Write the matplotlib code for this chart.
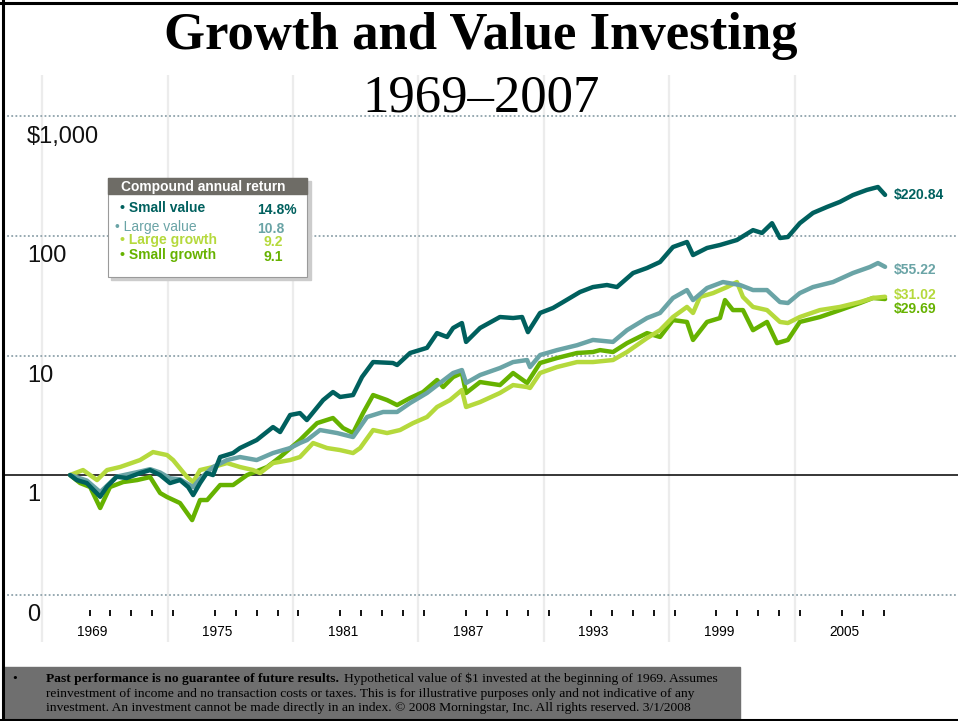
import numpy as np
import matplotlib.pyplot as plt
from matplotlib.lines import Line2D
from matplotlib.patches import Rectangle

plt.rcParams['font.family'] = ['Liberation Sans', 'DejaVu Sans']

# ── Valor de $1 invertido a inicios de 1969 ──
sv_t = [1969.00, 1969.32, 1969.80, 1970.44, 1970.76, 1971.23, 1971.71, 1972.35, 1972.83,
        1973.31, 1973.78, 1974.26, 1974.65, 1974.89, 1975.22, 1975.54, 1975.84, 1976.18,
        1976.80, 1977.13, 1977.93, 1978.71, 1979.05, 1979.53, 1980.00, 1980.33, 1981.11,
        1981.58, 1981.92, 1982.54, 1982.97, 1983.50, 1984.45, 1984.65, 1985.27, 1986.08,
        1986.56, 1987.04, 1987.33, 1987.75, 1987.95, 1988.62, 1989.57, 1990.20, 1990.63,
        1990.91, 1991.49, 1992.11, 1992.59, 1993.40, 1994.02, 1994.69, 1995.17, 1995.94,
        1996.61, 1997.23, 1997.85, 1998.52, 1998.81, 1999.48, 2000.10, 2000.91, 2001.68,
        2002.11, 2002.59, 2002.97, 2003.35, 2003.92, 2004.55, 2005.22, 2005.84, 2006.46,
        2007.13, 2007.66, 2008.00]
sv_v = [1.0, 0.908, 0.857, 0.658, 0.798, 0.968, 0.944, 1.039, 1.10,
        1.0, 0.857, 0.908, 0.794, 0.68, 0.857, 1.039, 1.0, 1.415,
        1.528, 1.682, 1.963, 2.52, 2.29, 3.18, 3.30, 2.886, 4.24,
        4.95, 4.50, 4.67, 6.61, 8.82, 8.66, 8.33, 10.5, 11.6,
        15.4, 14.3, 17.0, 18.7, 13.0, 17.0, 21.0, 20.6, 21.0,
        15.7, 22.7, 25.0, 28.0, 34.0, 37.4, 38.9, 37.4, 49.0,
        54.0, 60.6, 80.9, 89.1, 69.3, 79.4, 84.1, 92.6, 112,
        106, 128, 96.2, 98.1, 128, 156, 175, 193, 220,
        243, 257, 220.84]

lv_t = [1969.00, 1969.80, 1970.44, 1971.23, 1972.35, 1972.83, 1973.31, 1973.78, 1974.26,
        1974.89, 1975.22, 1975.84, 1976.51, 1977.13, 1977.93, 1978.71, 1979.53, 1980.00,
        1980.34, 1980.96, 1981.78, 1982.54, 1983.21, 1983.98, 1984.65, 1985.27, 1986.08,
        1986.70, 1987.33, 1987.75, 1987.95, 1988.62, 1989.57, 1990.20, 1990.87, 1991.01,
        1991.49, 1992.30, 1993.26, 1994.02, 1994.98, 1995.65, 1996.61, 1997.23, 1997.85,
        1998.52, 1998.81, 1999.48, 2000.24, 2001.06, 2001.68, 2002.35, 2002.97, 2003.35,
        2003.92, 2004.55, 2005.51, 2006.46, 2007.27, 2007.66, 2008.00]
lv_v = [1.0, 0.90, 0.72, 0.97, 1.07, 1.12, 1.05, 0.94, 0.92,
        0.794, 0.93, 1.167, 1.335, 1.415, 1.335, 1.528, 1.682, 1.853,
        1.963, 2.38, 2.246, 2.08, 3.06, 3.37, 3.37, 4.0, 4.86,
        5.89, 7.14, 7.56, 5.89, 6.87, 7.86, 8.82, 9.17, 8.01,
        10.1, 11.1, 12.2, 13.5, 13.0, 16.3, 20.6, 22.7, 30.3,
        35.3, 29.1, 36.7, 41.2, 38.9, 35.3, 35.3, 28.0, 27.5,
        33.3, 37.4, 41.2, 49.0, 55.0, 59.4, 55.22]

lg_t = [1969.00, 1969.62, 1970.29, 1970.77, 1971.39, 1972.35, 1972.97, 1973.64, 1973.93,
        1974.60, 1974.89, 1975.22, 1975.84, 1976.51, 1977.13, 1977.76, 1978.09, 1978.71,
        1979.53, 1980.00, 1980.63, 1981.30, 1981.92, 1982.54, 1982.88, 1983.50, 1984.17,
        1984.79, 1985.41, 1986.08, 1986.56, 1987.18, 1987.75, 1987.95, 1988.62, 1989.57,
        1990.20, 1990.87, 1991.01, 1991.49, 1992.30, 1993.26, 1994.02, 1994.98, 1995.65,
        1996.61, 1997.23, 1997.85, 1998.52, 1998.81, 1999.14, 1999.77, 2000.44, 2000.91,
        2001.20, 2001.68, 2002.35, 2002.97, 2003.35, 2003.92, 2004.88, 2005.84, 2006.80,
        2007.42, 2008.00]
lg_v = [1.0, 1.101, 0.908, 1.101, 1.167, 1.335, 1.557, 1.47, 1.335,
        0.962, 0.874, 1.101, 1.167, 1.26, 1.167, 1.101, 1.039, 1.26,
        1.335, 1.415, 1.853, 1.682, 1.618, 1.528, 1.682, 2.38, 2.246,
        2.38, 2.72, 3.06, 3.71, 4.24, 5.14, 3.71, 4.08, 4.86,
        5.66, 5.45, 5.35, 7.14, 8.01, 8.82, 8.82, 9.17, 10.7,
        14.0, 16.3, 21.0, 25.5, 22.7, 30.9, 33.3, 37.4, 41.2,
        30.9, 25.5, 24.0, 19.1, 18.7, 21.0, 24.0, 25.5, 28.0,
        30.3, 31.02]

sg_t = [1969.00, 1969.48, 1969.96, 1970.44, 1970.91, 1971.54, 1972.21, 1972.83, 1973.31,
        1973.64, 1974.26, 1974.84, 1975.22, 1975.56, 1976.18, 1976.80, 1977.47, 1978.43,
        1979.05, 1980.00, 1980.48, 1980.82, 1981.58, 1982.06, 1982.54, 1983.02, 1983.50,
        1984.17, 1984.65, 1985.27, 1985.89, 1986.56, 1986.85, 1987.33, 1987.75, 1987.95,
        1988.62, 1989.57, 1990.20, 1990.87, 1991.49, 1992.30, 1993.26, 1994.02, 1994.36,
        1994.98, 1995.65, 1996.61, 1997.23, 1997.85, 1998.52, 1998.81, 1999.48, 2000.10,
        2000.34, 2000.72, 2001.20, 2001.68, 2002.35, 2002.83, 2003.35, 2003.92, 2004.88,
        2005.84, 2006.80, 2007.42, 2008.00]
sg_v = [1.0, 0.857, 0.794, 0.53, 0.794, 0.874, 0.908, 0.962, 0.707,
        0.655, 0.583, 0.42, 0.618, 0.618, 0.825, 0.825, 1.0, 1.167,
        1.415, 1.963, 2.38, 2.72, 3.0, 2.474, 2.246, 3.30, 4.67,
        4.24, 3.85, 4.41, 4.95, 6.24, 5.45, 6.61, 7.14, 4.86,
        6.0, 5.66, 7.14, 5.89, 8.66, 9.53, 10.5, 10.7, 11.1,
        10.7, 12.7, 15.4, 14.3, 19.8, 19.1, 13.5, 19.1, 20.6,
        29.1, 24.0, 24.0, 16.3, 19.1, 12.7, 13.5, 19.1, 21.0,
        24.0, 27.5, 30.3, 29.69]

names = ["Small value", "Large value", "Large growth", "Small growth"]
returns = ["14.8%", "10.8", "9.2", "9.1"]
end_labels = ["$220.84", "$55.22", "$31.02", "$29.69"]
colors = ["#00605e", "#6aa4a6", "#b5d93c", "#66b200"]

level_values = [1000, 100, 10, 1, 0.1]
level_labels = ["$1,000", "100", "10", "1", "0"]
label_years = list(range(1969, 2006, 6))
grid_years = [1967.67 + 6 * k for k in range(7)]

# ── Figura ──
W, H = 958, 721
fig = plt.figure(figsize=(W / 100, H / 100), dpi=100)


def fx(px):
    return px / W


def fy(py):
    return 1 - py / H


ax = fig.add_axes([fx(3), fy(642), 1 - fx(3), fy(75) - fy(642)])
ax.set_yscale("log")
ax.set_xlim(1965.79, 2011.49)
ax.set_ylim(0.0401, 2224)
ax.axis("off")

for g in grid_years:
    ax.axvline(g, color="#ececec", lw=1.6, zorder=0)

for lv, lab in zip(level_values, level_labels):
    if lv == 1:
        ax.axhline(lv, color="black", lw=1.1, zorder=1)
    else:
        ax.axhline(lv, color="#8fa3ab", lw=1.3, ls=(0, (1, 1.3)), zorder=1)
    ax.annotate(lab, xy=(0.025, lv), xycoords=("axes fraction", "data"),
                xytext=(0, -14.5), textcoords="offset points",
                ha="left", va="center", fontsize=17, color="#111111")

# ticks de años
tick_years = [y for y in range(1969, 2008) if (y - 1969) % 6 != 5]
ax.plot([y + 0.93 for y in tick_years], [0.051] * len(tick_years), ls="none",
        marker="|", ms=5, mew=1.3, color="black", transform=ax.get_xaxis_transform())
for y in label_years:
    ax.text(y + 1.05, 0.018, str(y), transform=ax.get_xaxis_transform(),
            ha="center", va="center", fontsize=9.8)

# series (small value arriba)
data = [(sv_t, sv_v), (lv_t, lv_v), (lg_t, lg_v), (sg_t, sg_v)]
for i in [3, 2, 1, 0]:
    t, v = data[i]
    ax.plot(t, v, color=colors[i], lw=3.2, solid_joinstyle="round",
            solid_capstyle="round", zorder=3 + (3 - i))

offsets = [0, -2, 1, -7]
for i in range(4):
    ax.annotate(end_labels[i], xy=(sg_t[-1], data[i][1][-1]), xytext=(6.5, offsets[i]),
                textcoords="offset points", ha="left", va="center",
                fontsize=10, fontweight="bold", color=colors[i])

# ── Titulo ──
fig.text(0.502, fy(36), "Growth and Value Investing", ha="center", va="center",
         family="Liberation Serif", fontweight="bold", fontsize=38)
fig.text(0.502, fy(98), "1969\u20132007", ha="center", va="center",
         family="Liberation Serif", fontsize=38)

# ── Cuadro de rendimientos ──
fig.add_artist(Rectangle((fx(111), fy(280)), fx(200), fy(181) - fy(280),
                         transform=fig.transFigure, color="#cccccc", zorder=5))
fig.add_artist(Rectangle((fx(108), fy(277)), fx(199), fy(178) - fy(277),
                         transform=fig.transFigure, facecolor="white",
                         edgecolor="#9a9a9a", lw=0.8, zorder=6))
fig.add_artist(Rectangle((fx(108), fy(194)), fx(199), fy(178) - fy(194),
                         transform=fig.transFigure, color="#6e6c66", zorder=7))
fig.text(fx(121), fy(186.5), "Compound annual return", color="white",
         fontsize=9.9, fontweight="bold", va="center", zorder=8)

row_y = [208, 227, 240, 255]
row_x = [120, 115, 120, 120]
num_x = [257, 257, 264, 264]
weights = ["bold", "normal", "bold", "bold"]
for i in range(4):
    fig.text(fx(row_x[i]), fy(row_y[i]), "\u2022 " + names[i], color=colors[i],
             fontsize=10, fontweight=weights[i], va="center", zorder=8)
    fig.text(fx(num_x[i]), fy(row_y[i] + 2), returns[i], color=colors[i],
             fontsize=10, fontweight="bold", va="center", zorder=8)

# ── Nota al pie ──
fig.add_artist(Rectangle((fx(4), fy(720)), fx(736), fy(667) - fy(720),
                         transform=fig.transFigure, color="#6f6f6f", zorder=1))
foot_kw = dict(family="Liberation Serif", fontsize=9.7, va="center", color="black", zorder=2)
fig.text(fx(12), fy(679), "\u2022", **foot_kw)
t1 = fig.text(fx(46), fy(679), "Past performance is no guarantee of future results.",
              fontweight="bold", **foot_kw)
fig.canvas.draw()
bb = t1.get_window_extent(fig.canvas.get_renderer())
fig.text(fx(bb.x1 + 5), fy(679),
         "Hypothetical value of $1 invested at the beginning of 1969. Assumes", **foot_kw)
fig.text(fx(46), fy(693.5),
         "reinvestment of income and no transaction costs or taxes. This is for illustrative "
         "purposes only and not indicative of any", **foot_kw)
fig.text(fx(46), fy(708),
         "investment. An investment cannot be made directly in an index. \u00a9 2008 "
         "Morningstar, Inc. All rights reserved. 3/1/2008", **foot_kw)

# marco
for xs, ys in [([3, 3], [0, 721]), ([0, 958], [3, 3]), ([0, 958], [720, 720])]:
    fig.add_artist(Line2D([fx(x) for x in xs], [fy(y) for y in ys],
                          transform=fig.transFigure, color="black", lw=2.2, zorder=10))

plt.savefig("out.png", dpi=100)
